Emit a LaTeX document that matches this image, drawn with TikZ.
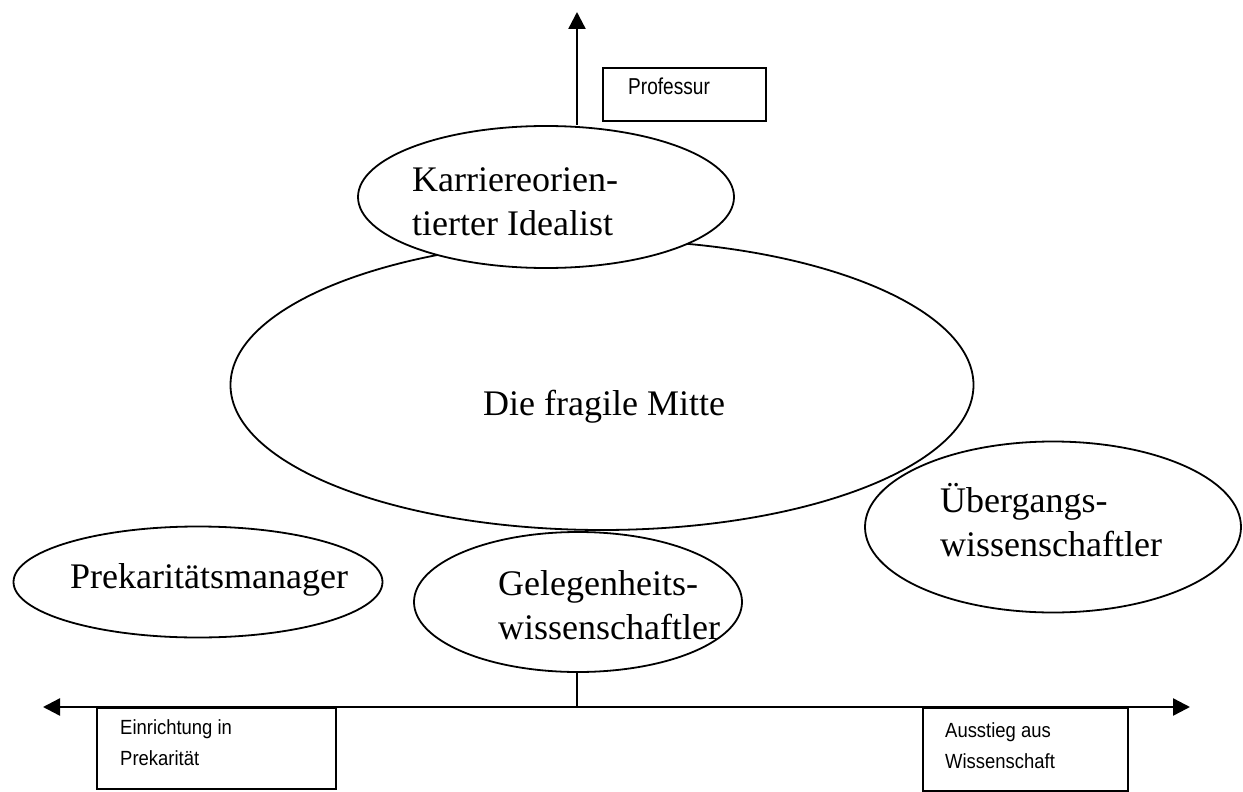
\documentclass[tikz,border=0pt]{standalone}
\usepackage{fontspec}
\setmainfont{Liberation Serif}
\newfontfamily\boxfont[FakeStretch=0.9]{Liberation Sans}
\newfontfamily\proffont[FakeStretch=0.83]{Liberation Sans}
\usetikzlibrary{shapes.geometric,arrows.meta}
\begin{document}
\begin{tikzpicture}[x=1pt,y=-1pt,
  ell/.style={draw,ellipse,line width=1.8pt,inner sep=0pt},
  lbl/.style={anchor=base west,align=left,inner sep=0pt,font=\fontsize{36}{44}\selectfont},
  boxtxt/.style={anchor=base west,align=left,inner sep=0pt,font=\boxfont\fontsize{20.5}{31}\selectfont},
  frame/.style={draw,rectangle,line width=1.6pt,inner sep=0pt,anchor=north west},
  conn/.style={line width=2.4pt},
  tip/.style={-{Triangle[length=17pt,width=17pt]}}]
\useasboundingbox[fill=white] (0,0) rectangle (1243,792);

% big middle ellipse
\node[ell,minimum width=743pt,minimum height=290pt] (mitte) at (602,385) {};
% career ellipse on top
\node[ell,fill=white,minimum width=376pt,minimum height=142pt] (karr) at (546,197) {};
\node[ell,minimum width=369pt,minimum height=111pt] (prek) at (198,582) {};
\node[ell,minimum width=328pt,minimum height=140pt] (geleg) at (578,602) {};
\node[ell,minimum width=376pt,minimum height=171pt] (uebg) at (1053,527) {};

% labels (coordinate = baseline of the last line)
\node[lbl] (tkarr) at (412,235) {Karriereorien-\\tierter Idealist};
\node[lbl] (tmitte) at (483,415) {Die fragile Mitte};
\node[lbl] (tprek) at (70,588) {Prekaritätsmanager};
\node[lbl] (tgeleg) at (498,639) {Gelegenheits-\\wissenschaftler};
\node[lbl] (tuebg) at (940,556) {Übergangs-\\wissenschaftler};

% vertical arrow to Professur
\coordinate (top) at (577,12);
\draw[conn,tip] (karr.north -| top) -- (top);
\node[frame,minimum width=163pt,minimum height=53pt] (prof) at (602,67) {};
\node[anchor=base west,inner sep=0pt,font=\proffont\fontsize{23}{28}\selectfont] (tprof) at (628,95) {Professur};

% horizontal axis
\coordinate (axL) at (43,707);
\coordinate (axR) at (1190,707);
\coordinate (axM) at (577,707);
\draw[conn,tip] (axM) -- (axL);
\draw[conn,tip] (axM) -- (axR);
\draw[conn] (geleg.south -| axM) -- (axM);

% bottom boxes
\node[frame,minimum width=239pt,minimum height=81pt] (boxL) at (96,707) {};
\node[boxtxt] (tboxL) at (120,765) {Einrichtung in\\Prekarität};
\node[frame,minimum width=205pt,minimum height=83pt] (boxR) at (922,707) {};
\node[boxtxt] (tboxR) at (945,768) {Ausstieg aus\\Wissenschaft};
\end{tikzpicture}
\end{document}
